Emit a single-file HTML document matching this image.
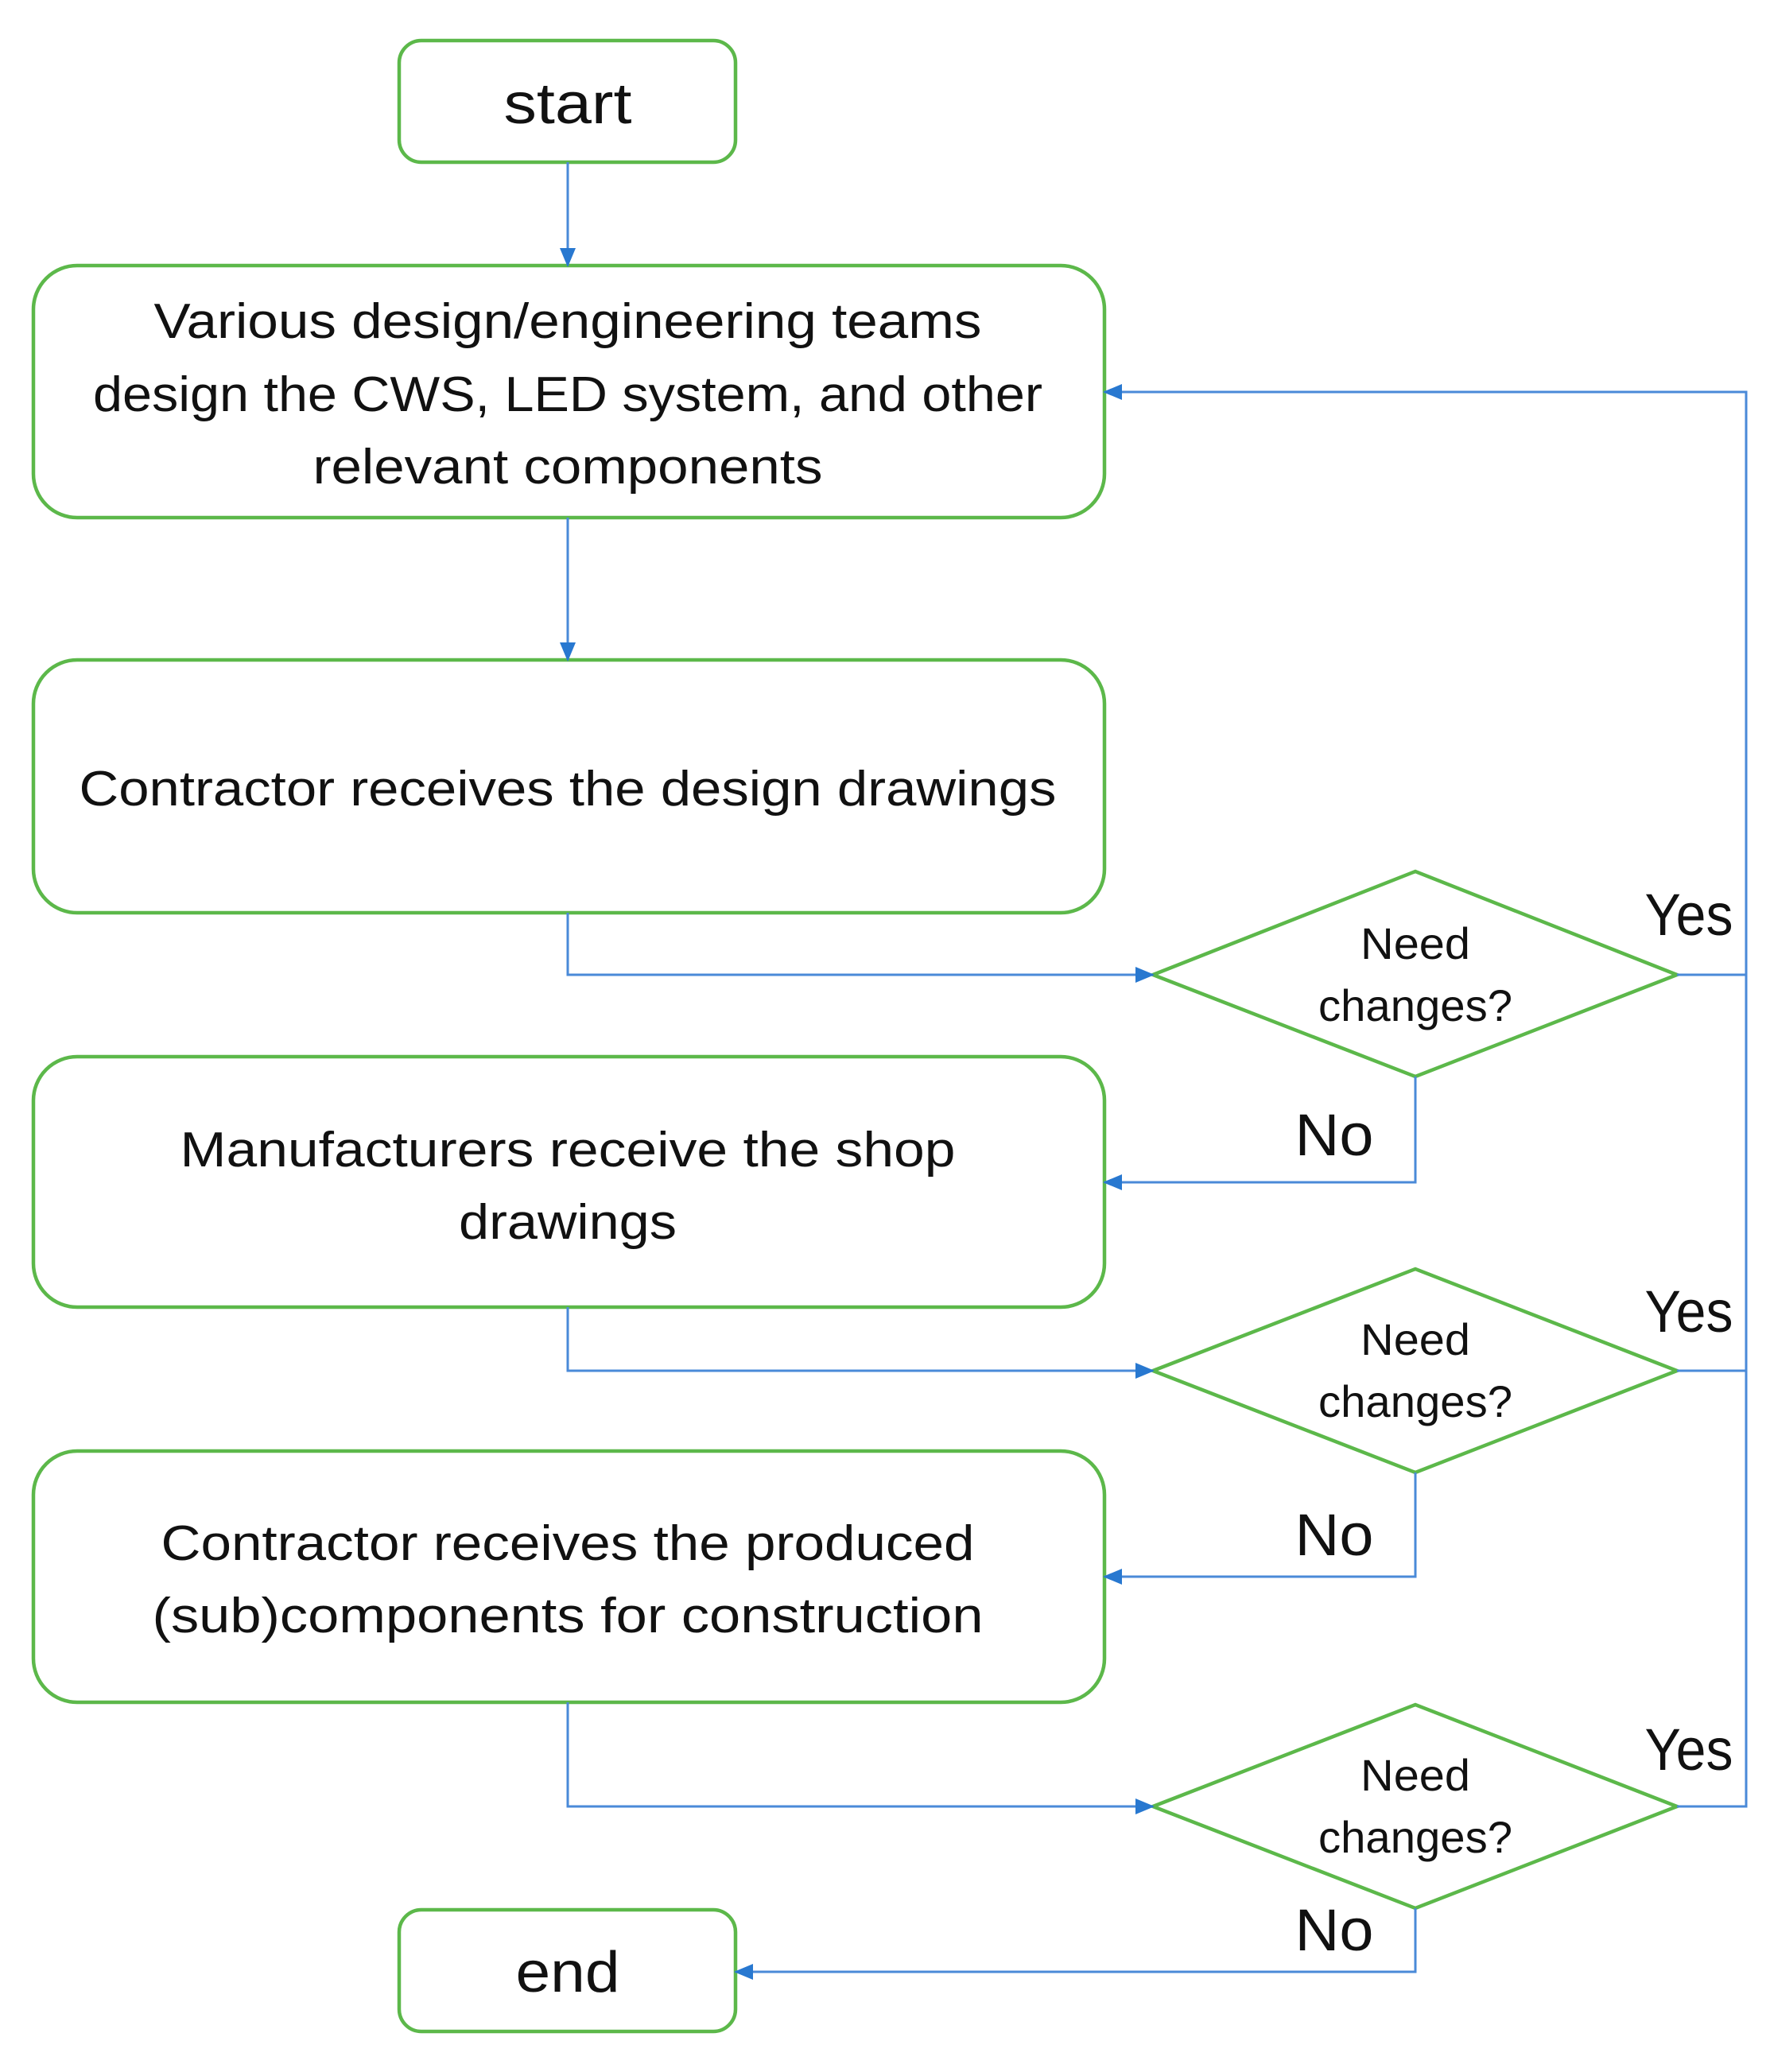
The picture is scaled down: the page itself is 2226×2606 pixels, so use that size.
<!DOCTYPE html>
<html><head><style>html,body{margin:0;padding:0;background:#fff}svg{display:block}</style></head>
<body>
<svg width="2226" height="2606" viewBox="0 0 2226 2606" xmlns="http://www.w3.org/2000/svg">
<defs>
<marker id="a" markerWidth="10" markerHeight="10" refX="9" refY="5" orient="auto" markerUnits="userSpaceOnUse" viewBox="0 0 10 10">
<path d="M0,0 L10,5 L0,10 z" fill="#2878d0"/></marker>
<marker id="b" markerWidth="24" markerHeight="24" refX="22" refY="12" orient="auto" markerUnits="userSpaceOnUse" viewBox="0 0 24 24">
<path d="M0,2 L24,12 L0,22 z" fill="#2878d0"/></marker>
</defs>
<g fill="none" stroke="#5cb84a" stroke-width="4.5">
<rect x="502" y="51" width="423" height="153" rx="28"/>
<rect x="42" y="334" width="1347" height="317" rx="55"/>
<rect x="42" y="830" width="1347" height="318" rx="55"/>
<rect x="42" y="1329" width="1347" height="315" rx="55"/>
<rect x="42" y="1825" width="1347" height="316" rx="55"/>
<rect x="502" y="2402" width="423" height="153" rx="28"/>
<polygon points="1450,1226 1780,1096 2109,1226 1780,1354"/>
<polygon points="1450,1724 1780,1596 2109,1724 1780,1852"/>
<polygon points="1450,2272 1780,2144 2109,2272 1780,2400"/>
</g>
<g fill="none" stroke="#4a8ad8" stroke-width="3">
<path d="M714,204 L714,334" marker-end="url(#b)"/>
<path d="M714,651 L714,830" marker-end="url(#b)"/>
<path d="M714,1148 L714,1226 L1450,1226" marker-end="url(#b)"/>
<path d="M714,1644 L714,1724 L1450,1724" marker-end="url(#b)"/>
<path d="M714,2141 L714,2272 L1450,2272" marker-end="url(#b)"/>
<path d="M2109,1226 L2196,1226"/>
<path d="M2109,1724 L2196,1724"/>
<path d="M2109,2272 L2196,2272 L2196,493 L1389,493" marker-end="url(#b)"/>
<path d="M1780,1354 L1780,1487 L1389,1487" marker-end="url(#b)"/>
<path d="M1780,1852 L1780,1983 L1389,1983" marker-end="url(#b)"/>
<path d="M1780,2400 L1780,2480 L925,2480" marker-end="url(#b)"/>
</g>
<g font-family="Liberation Sans, sans-serif" fill="#111" text-anchor="middle" lengthAdjust="spacingAndGlyphs">
<text x="714" y="155" font-size="72" textLength="161" lengthAdjust="spacingAndGlyphs">start</text>
<text x="714" y="2505" font-size="72" textLength="131" lengthAdjust="spacingAndGlyphs">end</text>
<text x="714" y="425" font-size="62" textLength="1041" lengthAdjust="spacingAndGlyphs">Various design/engineering teams</text>
<text x="714" y="517" font-size="62" textLength="1194" lengthAdjust="spacingAndGlyphs">design the CWS, LED system, and other</text>
<text x="714" y="608" font-size="62" textLength="641" lengthAdjust="spacingAndGlyphs">relevant components</text>
<text x="714" y="1013" font-size="62" textLength="1229" lengthAdjust="spacingAndGlyphs">Contractor receives the design drawings</text>
<text x="714" y="1467" font-size="62" textLength="975" lengthAdjust="spacingAndGlyphs">Manufacturers receive the shop</text>
<text x="714" y="1558" font-size="62" textLength="274" lengthAdjust="spacingAndGlyphs">drawings</text>
<text x="714" y="1962" font-size="62" textLength="1023" lengthAdjust="spacingAndGlyphs">Contractor receives the produced</text>
<text x="714" y="2053" font-size="62" textLength="1045" lengthAdjust="spacingAndGlyphs">(sub)components for construction</text>
<g font-size="56">
<text x="1780" y="1206" textLength="138" lengthAdjust="spacingAndGlyphs">Need</text>
<text x="1780" y="1284" textLength="244" lengthAdjust="spacingAndGlyphs">changes?</text>
<text x="1780" y="1704" textLength="138" lengthAdjust="spacingAndGlyphs">Need</text>
<text x="1780" y="1782" textLength="244" lengthAdjust="spacingAndGlyphs">changes?</text>
<text x="1780" y="2252" textLength="138" lengthAdjust="spacingAndGlyphs">Need</text>
<text x="1780" y="2330" textLength="244" lengthAdjust="spacingAndGlyphs">changes?</text>
</g>
<g font-size="74">
<text x="2124" y="1176" textLength="111" lengthAdjust="spacingAndGlyphs">Yes</text>
<text x="2124" y="1675" textLength="111" lengthAdjust="spacingAndGlyphs">Yes</text>
<text x="2124" y="2226" textLength="111" lengthAdjust="spacingAndGlyphs">Yes</text>
<text x="1678" y="1453" textLength="99" lengthAdjust="spacingAndGlyphs">No</text>
<text x="1678" y="1956" textLength="99" lengthAdjust="spacingAndGlyphs">No</text>
<text x="1678" y="2453" textLength="99" lengthAdjust="spacingAndGlyphs">No</text>
</g>
</g>
</svg>
</body></html>
